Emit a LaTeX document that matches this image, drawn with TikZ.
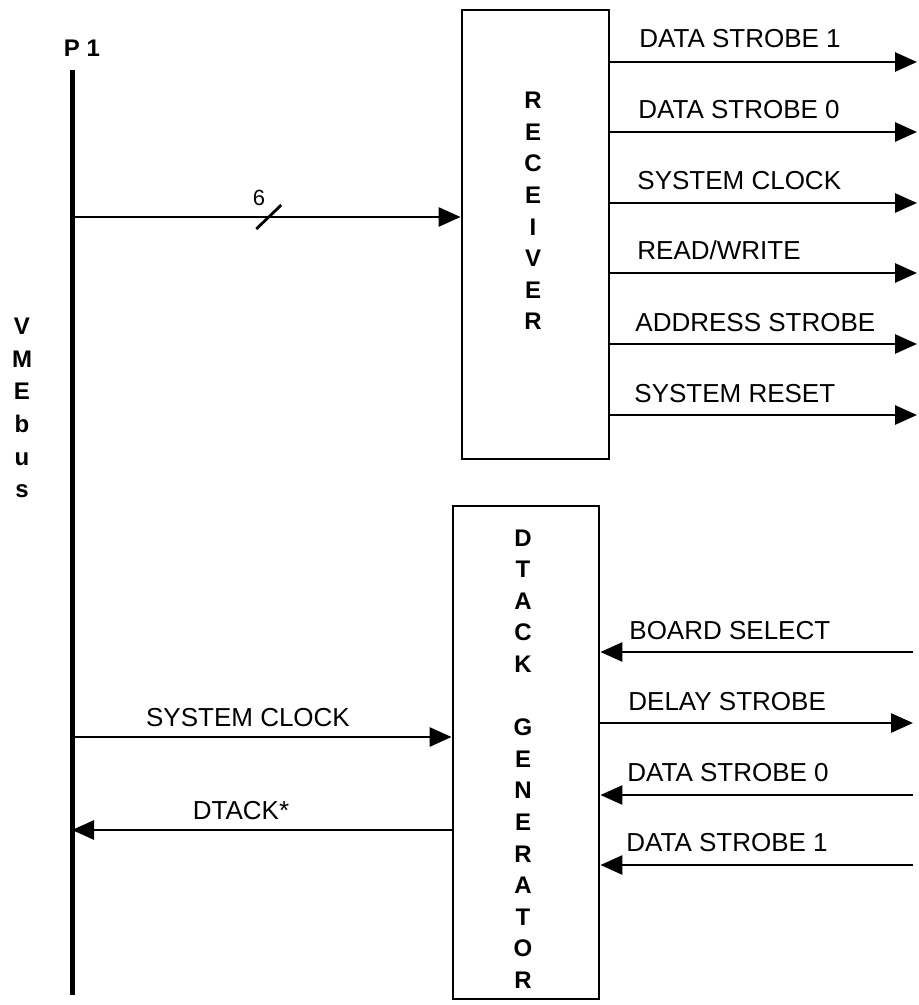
\documentclass[tikz,border=0pt]{standalone}
\usepackage{fontspec}
\setmainfont{Liberation Sans}
\usetikzlibrary{positioning,arrows.meta}

\begin{document}
\begin{tikzpicture}[
    x=0.5pt, y=-0.5pt,
    block/.style={draw, line width=1.4pt, minimum width=73.5pt, inner sep=0pt},
    arr/.style={-{Triangle[length=11pt, width=9.5pt]}, line width=1.4pt},
    bus/.style={line width=2.5pt},
    sig/.style={font=\fontsize{13}{15}\selectfont, anchor=base west, inner sep=0pt},
    lbl/.style={font=\fontsize{13}{15}\selectfont, anchor=base, inner sep=0pt},
    tall/.style={font=\fontsize{12}{15.8}\selectfont\bfseries, align=center, inner sep=0pt}
]
    \useasboundingbox (0,0) rectangle (919,1005);

    % bus
    \node[font=\fontsize{12}{14}\selectfont\bfseries] (p1) at (82,48) {P 1};
    \node[tall, font=\fontsize{12}{16.3}\selectfont\bfseries] (vme) at (22,408) {V\\M\\E\\b\\u\\s};
    \coordinate (bustop) at (72,70);
    \coordinate (busbot) at (72,995);
    \draw[bus] (bustop) -- (busbot);

    % receiver
    \node[block, minimum height=224.5pt] (rcv) at (535.5,234.5) {};
    \node[tall] (rcvtxt) at (533,211) {R\\E\\C\\E\\I\\V\\E\\R};

    \coordinate (b1) at (72,217);
    \draw[arr] (b1) -- (rcv.west |- b1) coordinate[pos=0.505] (tick);
    \draw[line width=1.4pt] (tick) ++(-12,12) -- ++(25,-24);
    \node[font=\fontsize{11}{13}\selectfont, inner sep=0pt] (six) at (259,198) {6};

    \coordinate (o1) at (917,62);
    \coordinate (o2) at (917,132);
    \coordinate (o3) at (917,203);
    \coordinate (o4) at (917,273);
    \coordinate (o5) at (917,344);
    \coordinate (o6) at (917,415);
    \draw[arr] (rcv.east |- o1) -- (o1);
    \draw[arr] (rcv.east |- o2) -- (o2);
    \draw[arr] (rcv.east |- o3) -- (o3);
    \draw[arr] (rcv.east |- o4) -- (o4);
    \draw[arr] (rcv.east |- o5) -- (o5);
    \draw[arr] (rcv.east |- o6) -- (o6);
    \node[sig] (o1l) at (639,48) {DATA STROBE 1};
    \node[sig] (o2l) at (638,119) {DATA STROBE 0};
    \node[sig] (o3l) at (637,190) {SYSTEM CLOCK};
    \node[sig] (o4l) at (637,260) {READ/WRITE};
    \node[sig] (o5l) at (635,331) {ADDRESS STROBE};
    \node[sig] (o6l) at (634,402) {SYSTEM RESET};

    % dtack generator
    \node[block, minimum width=73pt, minimum height=246.5pt] (dtk) at (526,752.5) {};
    \node[tall] (dtktxt) at (523,759) {D\\T\\A\\C\\K\\\mbox{}\\G\\E\\N\\E\\R\\A\\T\\O\\R};

    \coordinate (i1) at (913,652);
    \coordinate (i2) at (913,723);
    \coordinate (i3) at (913,795);
    \coordinate (i4) at (913,865);
    \draw[arr] (i1) -- (dtk.east |- i1);
    \draw[arr] (dtk.east |- i2) -- (i2);
    \draw[arr] (i3) -- (dtk.east |- i3);
    \draw[arr] (i4) -- (dtk.east |- i4);
    \node[sig] (i1l) at (629,639) {BOARD SELECT};
    \node[sig] (i2l) at (628,710) {DELAY STROBE};
    \node[sig] (i3l) at (627,781) {DATA STROBE 0};
    \node[sig] (i4l) at (626,851) {DATA STROBE 1};

    \coordinate (b2) at (72,737);
    \coordinate (b3) at (72,830);
    \draw[arr] (b2) -- (dtk.west |- b2);
    \draw[arr] (dtk.west |- b3) -- (b3);
    \node[lbl] (b2l) at (248,726) {SYSTEM CLOCK};
    \node[lbl] (b3l) at (241,819) {DTACK*};
\end{tikzpicture}
\end{document}
